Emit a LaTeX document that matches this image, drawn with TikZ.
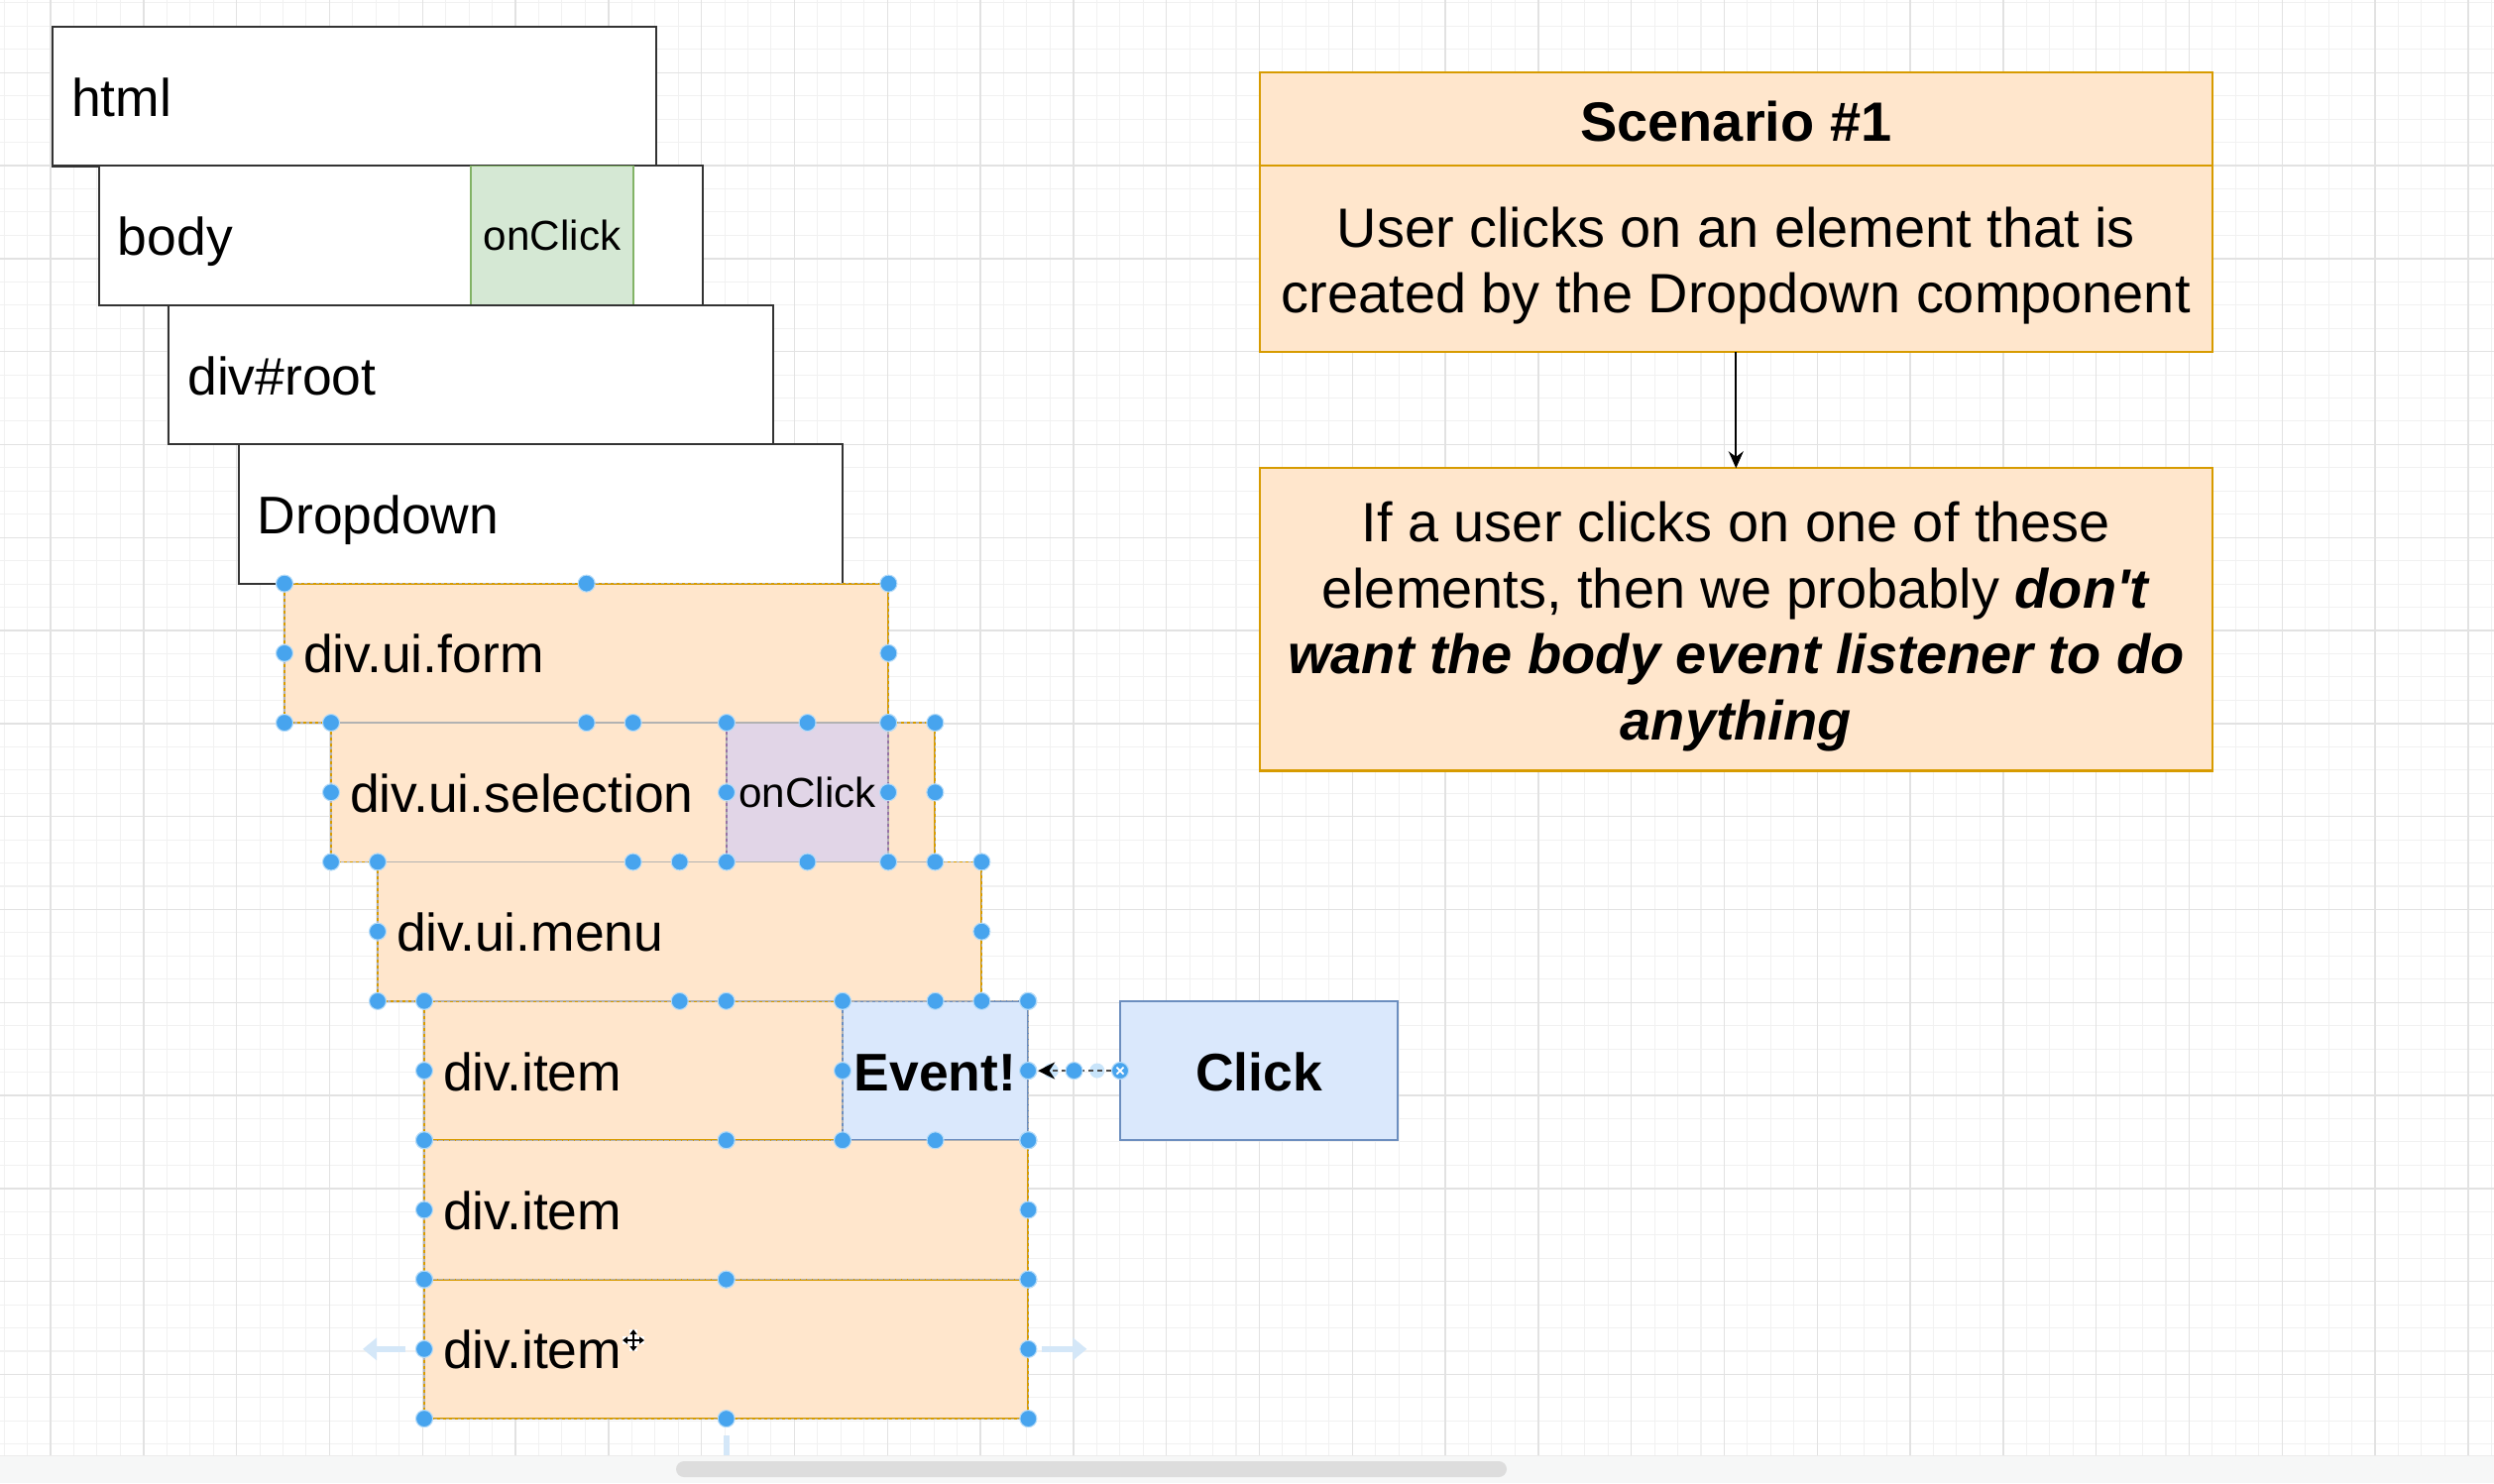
\documentclass[tikz,border=0pt]{standalone}
\usepackage{fontspec}
\newfontfamily\arial{Liberation Sans}
\usetikzlibrary{arrows.meta,calc}
\definecolor{orfill}{HTML}{FFE6CC}
\definecolor{orline}{HTML}{D79B00}
\definecolor{grfill}{HTML}{D5E8D4}
\definecolor{grline}{HTML}{82B366}
\definecolor{pufill}{HTML}{E1D5E7}
\definecolor{puline}{HTML}{9673A6}
\definecolor{blfill}{HTML}{DAE8FC}
\definecolor{blline}{HTML}{6C8EBF}
\definecolor{handle}{HTML}{47A4EE}
\definecolor{gridmin}{HTML}{F1F1F1}
\definecolor{gridmaj}{HTML}{E2E2E2}
\definecolor{stripc}{HTML}{F6F7F7}
\definecolor{sbar}{HTML}{DDDDDD}
\definecolor{hoverc}{HTML}{D4E7F8}
\definecolor{boxline}{HTML}{333333}
\begin{document}
\begin{tikzpicture}[x=0.01cm,y=-0.01cm,
  gridminor/.style={draw=gridmin,line width=0.3pt},
  gridmajor/.style={draw=gridmaj,line width=0.4pt},
  elem/.style={anchor=north west,inner ysep=0pt,inner xsep=0.19cm,outer sep=0pt,
    minimum height=1.404cm,text width=5.71cm,align=left,text height=0.4cm,text depth=0pt,
    font=\arial\fontsize{15.2}{18}\selectfont},
  whitebox/.style={elem,draw=boxline,fill=white,line width=0.6pt},
  orbox/.style={elem,draw=orline,fill=orfill,line width=0.5pt},
  tagbox/.style={anchor=north west,inner sep=0pt,outer sep=0pt,minimum height=1.404cm,
    align=center,text height=0.3cm,text depth=0pt,font=\arial\fontsize{12}{14}\selectfont},
  greenbox/.style={tagbox,draw=grline,fill=grfill,line width=0.5pt,minimum width=1.64cm},
  purplebox/.style={tagbox,draw=puline,fill=pufill,line width=0.5pt,minimum width=1.63cm},
  bluebox/.style={anchor=north west,inner sep=0pt,outer sep=0pt,minimum height=1.404cm,
    align=center,text height=0.4cm,text depth=0pt,draw=blline,fill=blfill,line width=0.6pt,
    font=\arial\bfseries\fontsize{15.2}{18}\selectfont},
  scenbox/.style={anchor=north west,inner sep=0pt,outer sep=0pt,minimum width=9.6cm,
    align=center,draw=orline,fill=orfill,line width=0.6pt,
    font=\arial\fontsize{15.9}{18.9}\selectfont},
  selo/.style={draw=gray!60,line width=0.35pt,dash pattern=on 0.03cm off 0.03cm},
  hd/.style={fill=handle,draw=white!60!handle,line width=0.3pt},
  hdfaint/.style={fill=handle!30},
  conn/.style={draw=black!70,line width=0.5pt,dash pattern=on 0.05cm off 0.04cm,
    shorten >=0.1cm,-{Stealth[length=0.17cm,width=0.17cm,black]}},
  arr/.style={draw=black,line width=0.5pt,-{Stealth[length=0.17cm,width=0.15cm]}},
  hoverarr/.style={draw=hoverc,line width=0.06cm,-{Triangle[length=0.14cm,width=0.22cm]}}
]
\useasboundingbox (0,0) rectangle (2516,1496);
\fill[white] (0,0) rectangle (2516,1496);
% grid
\foreach \i in {-2,...,105} \draw[gridminor] ({51+\i*23.45},0) -- ({51+\i*23.45},1468);
\foreach \j in {-3,...,59} \draw[gridminor] (0,{73.2+\j*23.45}) -- (2516,{73.2+\j*23.45});
\foreach \i in {0,...,26} \draw[gridmajor] ({51+\i*93.8},0) -- ({51+\i*93.8},1468);
\foreach \j in {0,...,14} \draw[gridmajor] (0,{73.2+\j*93.8}) -- (2516,{73.2+\j*93.8});

% DOM boxes
\node[whitebox] (html) at (53,27) {html};
\node[whitebox] (body) at (99.9,167.4) {body};
\node[greenbox] (bodyclick) at (475,167.4) {onClick};
\node[whitebox] (root) at (170.3,307.8) {div\#root};
\node[whitebox] (dropdown) at (240.6,448.2) {Dropdown};
\node[orbox] (form) at (287,588.6) {div.ui.form};
\node[orbox] (selection) at (334,729) {div.ui.selection};
\node[purplebox] (selclick) at (733,729) {onClick};
\node[orbox] (menu) at (381,869.4) {div.ui.menu};
\node[orbox] (item1) at (428,1009.8) {div.item};
\node[orbox] (item2) at (428,1150.2) {div.item};
\node[orbox] (item3) at (428,1290.6) {div.item};
\node[bluebox,minimum width=1.87cm] (event) at (850,1009.8) {Event!};
\node[bluebox,minimum width=2.8cm] (click) at (1130,1009.8) {Click};

% selection outlines and handles
\foreach \n in {form,selection,selclick,menu,item1,event,item2,item3}
  \draw[selo] (\n.north west) rectangle (\n.south east);
\foreach \n in {form,selection,selclick,menu,item1,event,item2,item3}
  \foreach \a in {north west,north,north east,west,east,south west,south,south east}
    \filldraw[hd] (\n.\a) circle (0.085cm);

% connector Click -> Event!
\fill[hdfaint] ($(event.east)!0.25!(click.west)$) circle (0.075cm);
\fill[hdfaint] ($(event.east)!0.75!(click.west)$) circle (0.075cm);
\draw[conn] (click.west) -- (event.east);
\filldraw[hd] ($(event.east)!0.5!(click.west)$) circle (0.085cm);
\filldraw[hd] (click.west) circle (0.085cm);
\draw[white,line width=0.5pt] ($(click.west)+(-3.5,-3.5)$) -- ($(click.west)+(3.5,3.5)$)
  ($(click.west)+(-3.5,3.5)$) -- ($(click.west)+(3.5,-3.5)$);

% hover arrows around item3
\draw[hoverarr] ($(item3.west)+(-19,0)$) -- ($(item3.west)+(-62,0)$);
\draw[hoverarr] ($(item3.east)+(14,0)$) -- ($(item3.east)+(59,0)$);
\draw[draw=hoverc,line width=0.06cm] ($(item3.south)+(0,17)$) -- ($(item3.south)+(0,45)$);

% move cursor
\begin{scope}[shift={(639,1352)}]
  \draw[white,line width=0.08cm] (-11,0) -- (11,0) (0,-11) -- (0,11);
  \draw[black,line width=0.025cm,{Triangle[length=0.05cm,width=0.07cm]}-{Triangle[length=0.05cm,width=0.07cm]}] (-11,0) -- (11,0);
  \draw[black,line width=0.025cm,{Triangle[length=0.05cm,width=0.07cm]}-{Triangle[length=0.05cm,width=0.07cm]}] (0,-11) -- (0,11);
\end{scope}

% scenario boxes
\node[scenbox,minimum height=0.942cm,font=\arial\bfseries\fontsize{15.9}{18.9}\selectfont] (scentitle) at (1271,73.2) {\rule{0pt}{0.44cm}Scenario \#1};
\node[scenbox,minimum height=1.876cm] (scenbody) at (1271,167.4) {\rule{0pt}{0.54cm}User clicks on an element that is\\created by the Dropdown component};
\node[scenbox,minimum height=3.05cm] (scen2) at (1271,472.3) {\rule{0pt}{0.55cm}If a user clicks on one of these\\elements, then we probably \textbf{\textit{don't}}\\\textbf{\textit{want the body event listener to do}}\\\textbf{\textit{anything}}};
\draw[arr] (scenbody.south) -- (scen2.north);

% bottom strip and scrollbar
\fill[stripc] (0,1468) rectangle (2516,1496);
\draw[gray!15,line width=0.3pt] (0,1468) -- (2516,1468);
\fill[sbar,rounded corners=0.08cm] (682,1474) rectangle (1520,1490);
\end{tikzpicture}
\end{document}
